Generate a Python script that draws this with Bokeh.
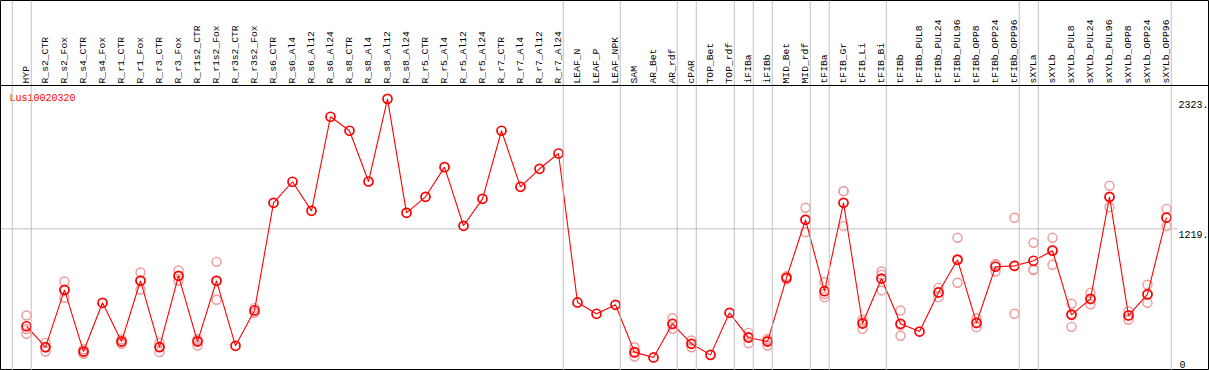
import math
from bokeh.plotting import figure
from bokeh.models import Range1d, Span, ColumnDataSource
from bokeh.core.properties import value
from bokeh.embed import file_html
from bokeh.resources import INLINE

gene = "Lus10020320"

categories = [
    "HYP", "R_s2_CTR", "R_s2_Fox", "R_s4_CTR", "R_s4_Fox", "R_r1_CTR", "R_r1_Fox",
    "R_r3_CTR", "R_r3_Fox", "R_r1s2_CTR", "R_r1s2_Fox", "R_r3s2_CTR", "R_r3s2_Fox",
    "R_s6_CTR", "R_s6_Al4", "R_s6_Al12", "R_s6_Al24", "R_s8_CTR", "R_s8_Al4",
    "R_s8_Al12", "R_s8_Al24", "R_r5_CTR", "R_r5_Al4", "R_r5_Al12", "R_r5_Al24",
    "R_r7_CTR", "R_r7_Al4", "R_r7_Al12", "R_r7_Al24", "LEAF_N", "LEAF_P", "LEAF_NPK",
    "SAM", "AR_Bet", "AR_rdf", "cPAR", "TOP_Bet", "TOP_rdf", "iFIBa", "iFIBb",
    "MID_Bet", "MID_rdf", "tFIBa", "tFIB_Gr", "tFIB_Li", "tFIB_Bi", "tFIBb",
    "tFIBb_PUL8", "tFIBb_PUL24", "tFIBb_PUL96", "tFIBb_OPP8", "tFIBb_OPP24",
    "tFIBb_OPP96", "sXYLa", "sXYLb", "sXYLb_PUL8", "sXYLb_PUL24", "sXYLb_PUL96",
    "sXYLb_OPP8", "sXYLb_OPP24", "sXYLb_OPP96",
]

means = [
    392, 214, 701, 177, 591, 262, 778, 214, 820, 262, 778, 226, 526,
    1440, 1619, 1372, 2171, 2052, 1621, 2323, 1355, 1491, 1743, 1245, 1474,
    2052, 1576, 1729, 1859, 594, 498, 574,
    172, 127, 413, 243, 149, 506, 296, 262,
    803, 1296, 690, 1440, 415, 797, 413,
    347, 679, 956, 421, 897, 905,
    948, 1033, 489, 625, 1491, 483, 664, 1315,
]

replicates = [
    [483, 368, 328], [177, 214, 251], [772, 634, 697], [158, 177, 196], [],
    [243, 262, 281], [848, 704, 782], [172, 251, 219], [865, 778, 817],
    [228, 285, 273], [939, 617, 778], [], [506, 546],
    [], [], [], [], [], [], [], [], [], [], [], [], [], [], [], [],
    [], [], [],
    [214, 135, 167], [], [460, 370, 409], [271, 214, 244], [], [],
    [336, 248, 304], [285, 228, 273],
    [790, 816], [1398, 1191, 1299], [766, 639, 665], [1539, 1242, 1539],
    [447, 370, 428], [857, 829, 696], [526, 311, 402],
    [], [718, 639, 680], [1143, 761, 964], [460, 384, 419], [922, 857, 912],
    [1313, 498, 904],
    [1101, 874, 869], [1143, 914, 1042], [583, 387, 497], [676, 579, 620],
    [1585, 1403, 1485], [517, 447, 485], [744, 591, 657], [1389, 1242, 1314],
]

# index of last category in each group (separators drawn after them)
group_ends = [-1, 0, 28, 31, 34, 35, 37, 38, 39, 41, 42, 45, 52, 53, 60]

tick_values = [2323, 1219, 0]
tick_labels = ["2323.", "1219.", "0"]

# ---- layout helpers (reference pixel -> data units) ----
def xd(px):
    return (px - 26.0) / 19.0

def yd(px):
    return (371.9 - px) * 8.492

W, H = 1209, 370
p = figure(width=W, height=H, output_backend="svg", toolbar_location=None,
           x_range=Range1d(xd(0), xd(1209)), y_range=Range1d(yd(370), yd(0)),
           min_border=0)
p.axis.visible = False
p.grid.visible = False
p.outline_line_color = "black"
p.outline_line_width = 1
p.background_fill_color = "white"
p.border_fill_color = "white"

mono = value("Liberation Mono")

# separators
for g in group_ends:
    p.add_layout(Span(location=g + 0.25, dimension="height",
                      line_color="#c0c0c0", line_width=1))
p.add_layout(Span(location=yd(85), dimension="width", line_color="black", line_width=1))

# horizontal grid at middle tick
p.segment(x0=[xd(0)], y0=[tick_values[1]], x1=[group_ends[-1] + 0.25 + 0.35], y1=[tick_values[1]],
          line_color="#c0c0c0", line_width=1)

# category labels
idx = list(range(len(categories)))
p.text(x=idx, y=[yd(83)] * len(idx), text=categories, angle=math.pi / 2,
       text_align="left", text_baseline="middle", text_font=mono,
       text_font_size="9.7px", text_color="black")

# right-side value labels
p.text(x=[xd(1178)] * 2, y=tick_values[:2], text=tick_labels[:2],
       text_align="left", text_baseline="top", y_offset=2,
       text_font=mono, text_font_size="10px", text_color="black")
p.text(x=[xd(1179)], y=[yd(367)], text=[tick_labels[2]],
       text_align="left", text_baseline="bottom",
       text_font=mono, text_font_size="10px", text_color="black")

# gene name
p.text(x=[xd(9)], y=[yd(97.5)], text=[gene], text_align="left", text_baseline="middle",
       text_font=mono, text_font_size="10px", text_color="#ff0000")

# replicates
rx, ry = [], []
for i, reps in enumerate(replicates):
    for v in reps:
        rx.append(i)
        ry.append(v)
p.scatter(rx, ry, marker="circle", size=9, fill_color=None,
          line_color="#ee9a9a", line_width=1.4)

# mean line + points
src = ColumnDataSource(dict(x=idx, y=means))
p.line("x", "y", source=src, line_color="#ff0000", line_width=1.1)
p.scatter("x", "y", source=src, marker="circle", size=9, fill_color=None,
          line_color="#ff0000", line_width=1.7)

open("out.html", "w").write(file_html(p, INLINE))
